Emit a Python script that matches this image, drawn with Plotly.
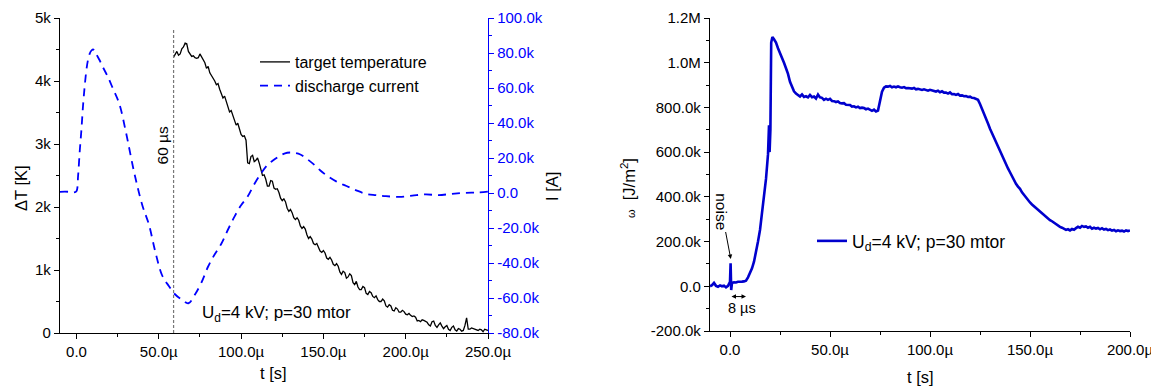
import plotly.graph_objects as go

# ---------------- data: left panel ----------------
temp_t = list(range(59, 251))  # µs grid
temp_K = [4380, 4420, 4470, 4410, 4430, 4510, 4540, 4600, 4590, 4470,
          4420, 4390, 4400, 4370, 4360, 4370, 4430, 4380, 4350, 4290,
          4200, 4230, 4130, 4090, 4040, 4000, 3940, 3960, 3870, 3790,
          3730, 3760, 3680, 3580, 3510, 3530, 3460, 3390, 3300, 3330,
          3250, 3150, 3120, 3130, 3060, 2700, 2690, 2800, 2820, 2720,
          2740, 2780, 2700, 2580, 2500, 2510, 2440, 2330, 2330, 2420,
          2410, 2300, 2280, 2290, 2230, 2140, 2100, 2130, 2080, 1980,
          1930, 1960, 1910, 1830, 1800, 1830, 1790, 1700, 1660, 1690,
          1650, 1560, 1500, 1530, 1490, 1420, 1400, 1420, 1370, 1300,
          1280, 1310, 1270, 1190, 1170, 1200, 1160, 1090, 1070, 1100,
          1060, 970, 930, 980, 960, 870, 890, 940, 910, 800,
          770, 820, 730, 690, 690, 740, 720, 630, 610, 660,
          640, 580, 560, 590, 530, 500, 500, 540, 510, 430,
          410, 450, 430, 360, 350, 400, 380, 330, 330, 360,
          340, 300, 290, 310, 280, 260, 270, 250, 190, 200,
          180, 210, 200, 180, 170, 130, 110, 180, 190, 120,
          90, 130, 160, 110, 70, 100, 120, 60, 40, 90,
          110, 50, 30, 70, 60, 30, 40, 120, 240, 60,
          60, 80, 70, 60, 50, 40, 60, 50, 20, 60,
          50, 40]

cur_t = [-10, -5, -1.5, 0, 1, 2, 3, 4, 5, 6, 7, 8, 9, 10, 11, 12, 14, 16, 19, 22,
         26, 30, 35, 40, 44, 48, 52, 56, 60, 64, 68, 72, 76, 80, 84, 88, 92, 96,
         100, 104, 108, 112, 116, 120, 124, 128, 132, 136, 140, 144, 148, 152,
         158, 164, 170, 176, 182, 188, 196, 204, 212, 220, 228, 236, 244, 250]
cur_kA = [0.7, 0.7, 0.3, 1, 10, 24, 36, 50, 61, 70, 76, 79.5, 81.3, 82, 81.5, 79.5,
          76, 72, 66.5, 60, 51, 35, 12, -7, -18, -34, -47, -53, -58, -61, -63, -58,
          -51, -42, -35, -29, -21, -13.5, -7, -2, 5, 11, 16, 19, 21.5, 23, 23, 22,
          19.5, 16.5, 13, 10, 6.5, 4, 1.5, -0.5, -1.2, -1.8, -2.2, -1.5, -0.8, -1.2,
          -0.5, 0.1, 0.3, 0.8]

# ---------------- data: right panel ----------------
om_t = [-10, -9, -8, -7, -6, -5, -4, -3, -2, -1, 0, 0.3, 0.6, 1, 2, 3, 4, 5, 6, 7, 8,
        9, 10, 11, 12, 13, 14, 15, 16, 17, 18, 19, 19.5, 19.8, 20.2, 20.6, 21.2]
om_t += list(range(22, 201))
om_k = [0, 5, 15, 2, -2, 4, 0, 3, -5, 2, 20, 103, -17, 15, 18, 17, 20, 19, 21, 22, 25,
        40, 58, 80, 110, 150, 200, 252, 320, 390, 480, 590, 720, 600, 700, 1090, 1115]
om_k += [1105, 1090, 1065, 1045, 1025, 1000, 975, 950, 915, 890,          # 22-31
         872, 862, 855, 849, 858, 847, 850, 845, 856, 846,                 # 32-41
         849, 840, 858, 845, 843, 834, 839, 834, 838, 829,                 # 42-51
         828, 824, 827, 820, 818, 819, 812, 810, 811, 804,                 # 52-61
         805, 800, 803, 797, 799, 797, 792, 795, 790, 785,                 # 62-71
         790, 782, 786, 830, 870, 888, 894, 893, 896, 890,                 # 72-81
         893, 890, 894, 890, 888, 891, 886, 887, 885, 884,                 # 82-91
         887, 881, 883, 880, 878, 881, 878, 875, 879, 876,                 # 92-101
         874, 871, 875, 868, 872, 866, 866, 862, 867, 859,                 # 102-111
         860, 856, 860, 853, 854, 850, 851, 847, 848, 843,                 # 112-121
         842, 838, 834, 815, 795, 775, 750, 728, 705, 685,                 # 122-131
         662, 640, 622, 603, 585, 565, 548, 527, 510, 492,                 # 132-141
         473, 458, 446, 436, 420, 408, 398, 386, 375, 366,                 # 142-151
         358, 348, 341, 332, 325, 316, 310, 304, 296, 291,                 # 152-161
         284, 279, 274, 266, 262, 256, 252, 255, 250, 256,                 # 162-171
         253, 260, 266, 262, 270, 266, 268, 262, 266, 258,                 # 172-181
         262, 258, 261, 255, 260, 254, 257, 251, 254, 249,                 # 182-191
         252, 246, 250, 247, 249, 245, 250, 247, 250]                      # 192-200

# ---------------- tick labels ----------------
xl_vals = [0, 50, 100, 150, 200, 250]
xl_text = ["0.0", "50.0\u00b5", "100.0\u00b5", "150.0\u00b5", "200.0\u00b5", "250.0\u00b5"]
yl_vals = [0, 1000, 2000, 3000, 4000, 5000]
yl_text = ["0", "1k", "2k", "3k", "4k", "5k"]
yr_vals = [-80, -60, -40, -20, 0, 20, 40, 60, 80, 100]
yr_text = ["-80.0k", "-60.0k", "-40.0k", "-20.0k", "0.0", "20.0k", "40.0k", "60.0k", "80.0k", "100.0k"]
x2_vals = [0, 50, 100, 150, 200]
x2_text = ["0.0", "50.0\u00b5", "100.0\u00b5", "150.0\u00b5", "200.0\u00b5"]
y3_vals = [-200, 0, 200, 400, 600, 800, 1000, 1200]
y3_text = ["-200.0k", "0.0", "200.0k", "400.0k", "600.0k", "800.0k", "1.0M", "1.2M"]

FONT = "Liberation Sans, Arial, sans-serif"
BLUE = "#0000ff"
DBLUE = "#0000cd"
TICK = 15
# the page body has an 8px margin; size the figure so it fills the window exactly
OX, OY = 8, 8
W, H = 1159 - OX, 388 - OY

fig = go.Figure()
fig.add_trace(go.Scatter(x=temp_t, y=temp_K, mode="lines", name="target temperature",
                         line=dict(color="black", width=1.3), xaxis="x", yaxis="y",
                         legend="legend", legendgroup="a"))
fig.add_trace(go.Scatter(x=cur_t, y=cur_kA, mode="lines", name="discharge current",
                         line=dict(color=BLUE, width=1.8, dash="8px,6px", shape="spline"),
                         xaxis="x", yaxis="y2", legend="legend", legendgroup="b"))
fig.add_trace(go.Scatter(x=om_t, y=om_k, mode="lines",
                         name="U<sub>d</sub>=4 kV; p=30 mtor",
                         line=dict(color=DBLUE, width=2.6), xaxis="x2", yaxis="y3",
                         legend="legend2"))

def px2fx(px):
    return (px - OX) / W

def py2fy(py):
    return 1 - (py - OY) / H

axis_common = dict(showgrid=False, zeroline=False, showline=True, linewidth=1.4,
                   automargin=False,
                   tickfont=dict(family=FONT, size=TICK, color="black"),
                   ticklen=5, tickwidth=1.2)

fig.update_layout(
    template="none",
    width=W, height=H,
    margin=dict(l=0, r=0, t=0, b=0, pad=0, autoexpand=False),
    paper_bgcolor="white", plot_bgcolor="white",
    font=dict(family=FONT, size=16, color="black"),
    xaxis=dict(domain=[px2fx(60), px2fx(488)], range=[-10, 250], anchor="y",
               tickmode="array", tickvals=xl_vals, ticktext=xl_text, ticks="outside",
               linecolor="black", tickcolor="black",
               minor=dict(tickmode="linear", tick0=0, dtick=25, ticks="outside", ticklen=3,
                          tickcolor="black", showgrid=False),
               **axis_common),
    xaxis3=dict(overlaying="x", side="top", anchor="y", range=[-10, 250],
                tickmode="linear", tick0=0, dtick=25, ticks="inside",
                showticklabels=False, linecolor="black", tickcolor="black",
                showgrid=False, zeroline=False, showline=True, linewidth=1.4,
                automargin=False, ticklen=5, tickwidth=1.2),
    yaxis=dict(domain=[py2fy(333), py2fy(18)], range=[0, 5000], anchor="x",
               tickmode="array", tickvals=yl_vals, ticktext=yl_text, ticks="outside",
               linecolor="black", tickcolor="black",
               minor=dict(tickmode="linear", tick0=0, dtick=500, ticks="outside", ticklen=3,
                          tickcolor="black", showgrid=False),
               **axis_common),
    yaxis2=dict(overlaying="y", side="right", anchor="x", range=[-80, 100],
                tickmode="array", tickvals=yr_vals, ticktext=yr_text, ticks="outside",
                linecolor=BLUE, tickcolor=BLUE,
                showgrid=False, zeroline=False, showline=True, linewidth=1.4,
                automargin=False, ticklen=5, tickwidth=1.2,
                tickfont=dict(family=FONT, size=TICK, color=BLUE),
                minor=dict(tickmode="linear", tick0=0, dtick=10, ticks="outside", ticklen=3,
                           tickcolor=BLUE, showgrid=False)),
    xaxis2=dict(domain=[px2fx(710), px2fx(1130)], range=[-10, 200], anchor="y3",
                tickmode="array", tickvals=x2_vals, ticktext=x2_text, ticks="outside",
                linecolor="black", tickcolor="black",
                minor=dict(tickmode="linear", tick0=0, dtick=25, ticks="outside", ticklen=3,
                           tickcolor="black", showgrid=False),
                **axis_common),
    yaxis3=dict(domain=[py2fy(331), py2fy(18)], range=[-200, 1200], anchor="x2",
                tickmode="array", tickvals=y3_vals, ticktext=y3_text, ticks="outside",
                linecolor="black", tickcolor="black",
                minor=dict(tickmode="linear", tick0=0, dtick=100, ticks="outside", ticklen=3,
                           tickcolor="black", showgrid=False),
                **axis_common),
    legend=dict(x=px2fx(255), y=py2fy(45), xanchor="left", yanchor="top",
                bgcolor="rgba(0,0,0,0)", font=dict(family=FONT, size=16, color="black"),
                tracegroupgap=0, itemwidth=30, borderwidth=0),
    legend2=dict(x=px2fx(812), y=py2fy(241), xanchor="left", yanchor="middle",
                 bgcolor="rgba(0,0,0,0)", font=dict(family=FONT, size=17.5, color="black"),
                 itemwidth=30, borderwidth=0),
    showlegend=True,
)

# vertical dashed marker at ~60 µs
fig.add_shape(type="line", xref="x", yref="y", x0=59, x1=59, y0=0, y1=4810,
              line=dict(color="#777777", width=1.2, dash="3px,2px"))

C = dict(xanchor="center", yanchor="middle", showarrow=False)
ann = []
ann.append(dict(text="60 \u00b5s", xref="x", yref="y", x=52.3, y=2970,
                textangle=-90, font=dict(size=15.5), **C))
ann.append(dict(text="U<sub>d</sub>=4 kV; p=30 mtor", xref="x", yref="y", x=75, y=300,
                xanchor="left", yanchor="middle", showarrow=False, font=dict(size=17)))
# axis titles
ann.append(dict(text="\u0394T [K]", xref="paper", yref="paper", x=px2fx(21), y=py2fy(188),
                textangle=-90, font=dict(size=16.5), **C))
ann.append(dict(text="I [A]", xref="paper", yref="paper", x=px2fx(552), y=py2fy(187),
                textangle=-90, font=dict(size=16.5), **C))
ann.append(dict(text="t [s]", xref="paper", yref="paper", x=px2fx(273), y=py2fy(373),
                font=dict(size=16.5), **C))
ann.append(dict(text="t [s]", xref="paper", yref="paper", x=px2fx(920), y=py2fy(377),
                font=dict(size=16.5), **C))
ann.append(dict(text="<span style='font-size:11px'>\u03c9</span>  [J/m<sup>2</sup>]",
                xref="paper", yref="paper", x=px2fx(628), y=py2fy(188),
                textangle=-90, font=dict(size=16.5), **C))
# noise annotation with arrow
ann.append(dict(text="noise", xref="x2", yref="y3", x=0.4, y=122, ax=-9, ay=-47,
                textangle=90, showarrow=True, arrowhead=2, arrowsize=0.9, arrowwidth=1,
                arrowcolor="black", font=dict(size=15.5)))
# 8 µs double arrow
ann.append(dict(text="", xref="x2", yref="y3", x=8, y=-46, ax=0, ay=-46,
                axref="x2", ayref="y3", showarrow=True, arrowhead=2, arrowside="end+start",
                arrowsize=0.9, arrowwidth=1, arrowcolor="black"))
ann.append(dict(text="8 \u00b5s", xref="x2", yref="y3", x=6, y=-97,
                font=dict(size=14.5), **C))
fig.update_layout(annotations=ann)

fig.write_html("out.html")
